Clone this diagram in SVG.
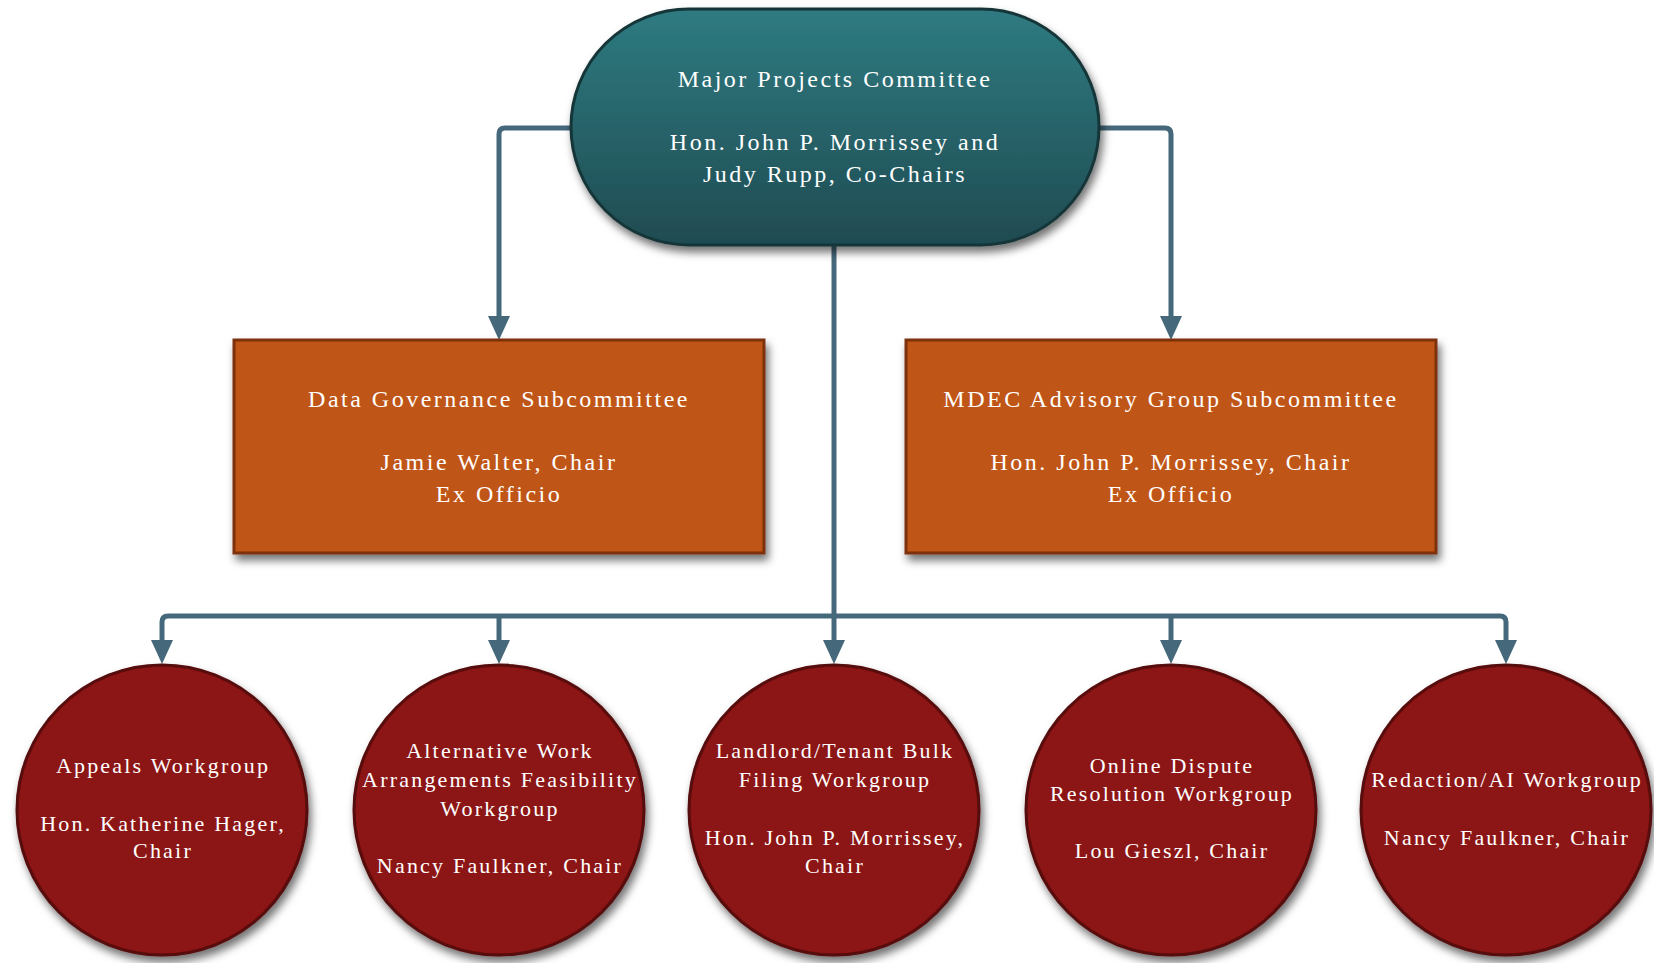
<svg xmlns="http://www.w3.org/2000/svg" width="1654" height="963" viewBox="0 0 1654 963">
<defs>
<linearGradient id="gTop" x1="0" y1="0" x2="0" y2="1">
<stop offset="0" stop-color="#2e7b81"/>
<stop offset="1" stop-color="#1f4b51"/>
</linearGradient>
<filter id="sh" x="-10%" y="-10%" width="125%" height="130%">
<feDropShadow dx="3" dy="6" stdDeviation="4" flood-color="#000" flood-opacity="0.55"/>
</filter>
<marker id="arr" viewBox="0 0 24 24" markerUnits="userSpaceOnUse" markerWidth="24" markerHeight="24" refX="8" refY="12" orient="auto">
<path d="M0,1 L24,12 L0,23 z" fill="#45687b"/>
</marker>
<style>
.conn{fill:none;stroke:#45687b;stroke-width:5}
.t{font-family:"Liberation Serif","Times New Roman",serif;fill:#fff;text-anchor:middle}
.t24{font-size:24px;letter-spacing:2.5px}
.t22{font-size:22px;letter-spacing:2.2px}
.top{fill:url(#gTop);stroke:#153638;stroke-width:3;filter:url(#sh)}
.box{fill:#bf5413;stroke:#7d3310;stroke-width:3;filter:url(#sh)}
.wg{fill:#8c1212;stroke:#560909;stroke-width:3;filter:url(#sh)}
</style>
</defs>
<rect width="1654" height="963" fill="#fff"/>
<g id="connectors">
<path class="conn" d="M571,128 H505 Q499,128 499,134 V324" marker-end="url(#arr)"/>
<path class="conn" d="M1099,128 H1165 Q1171,128 1171,134 V324" marker-end="url(#arr)"/>
<path class="conn" d="M834,245 V616"/>
<path class="conn" d="M168,616 H1500"/>
<path class="conn" d="M168,616 Q162,616 162,622 V648" marker-end="url(#arr)"/>
<path class="conn" d="M1500,616 Q1506,616 1506,622 V648" marker-end="url(#arr)"/>
<path class="conn" d="M499,616 V648" marker-end="url(#arr)"/>
<path class="conn" d="M834,616 V648" marker-end="url(#arr)"/>
<path class="conn" d="M1171,616 V648" marker-end="url(#arr)"/>
</g>
<g id="major-projects">
<rect class="top" x="571" y="9" width="528" height="236" rx="118" ry="118"/>
<text class="t t24" x="835" y="87">Major Projects Committee</text>
<text class="t t24" x="835" y="150">Hon. John P. Morrissey and</text>
<text class="t t24" x="835" y="182">Judy Rupp, Co-Chairs</text>
</g>
<g id="data-governance">
<rect class="box" x="234" y="340" width="530" height="213"/>
<text class="t t24" x="499" y="407">Data Governance Subcommittee</text>
<text class="t t24" x="499" y="470">Jamie Walter, Chair</text>
<text class="t t24" x="499" y="502">Ex Officio</text>
</g>
<g id="mdec">
<rect class="box" x="906" y="340" width="530" height="213"/>
<text class="t t24" x="1171" y="407">MDEC Advisory Group Subcommittee</text>
<text class="t t24" x="1171" y="470">Hon. John P. Morrissey, Chair</text>
<text class="t t24" x="1171" y="502">Ex Officio</text>
</g>
<g id="appeals">
<circle class="wg" cx="162" cy="810" r="145"/>
<text class="t t22" x="163" y="773">Appeals Workgroup</text>
<text class="t t22" x="163" y="831">Hon. Katherine Hager,</text>
<text class="t t22" x="163" y="858">Chair</text>
</g>
<g id="alt-work">
<circle class="wg" cx="499" cy="810" r="145"/>
<text class="t t22" x="500" y="758">Alternative Work</text>
<text class="t t22" x="500" y="787">Arrangements Feasibility</text>
<text class="t t22" x="500" y="816">Workgroup</text>
<text class="t t22" x="500" y="873">Nancy Faulkner, Chair</text>
</g>
<g id="landlord">
<circle class="wg" cx="834" cy="810" r="145"/>
<text class="t t22" x="835" y="758">Landlord/Tenant Bulk</text>
<text class="t t22" x="835" y="787">Filing Workgroup</text>
<text class="t t22" x="835" y="845">Hon. John P. Morrissey,</text>
<text class="t t22" x="835" y="873">Chair</text>
</g>
<g id="odr">
<circle class="wg" cx="1171" cy="810" r="145"/>
<text class="t t22" x="1172" y="773">Online Dispute</text>
<text class="t t22" x="1172" y="801">Resolution Workgroup</text>
<text class="t t22" x="1172" y="858">Lou Gieszl, Chair</text>
</g>
<g id="redaction">
<circle class="wg" cx="1506" cy="810" r="145"/>
<text class="t t22" x="1507" y="787">Redaction/AI Workgroup</text>
<text class="t t22" x="1507" y="845">Nancy Faulkner, Chair</text>
</g>
</svg>
